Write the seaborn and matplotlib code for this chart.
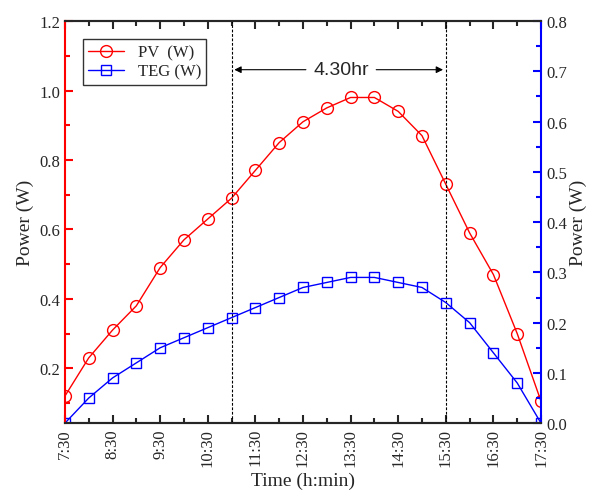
import numpy as np
import pandas as pd
import matplotlib
matplotlib.use('Agg')
import matplotlib.pyplot as plt
import seaborn as sns
from matplotlib.ticker import MultipleLocator

hours = [7.5 + 0.5 * i for i in range(21)]
tick_hours = [7.5, 8.5, 9.5, 10.5, 11.5, 12.5, 13.5, 14.5, 15.5, 16.5, 17.5]
tick_labels = ['7:30', '8:30', '9:30', '10:30', '11:30', '12:30',
               '13:30', '14:30', '15:30', '16:30', '17:30']
pv = [0.12, 0.23, 0.31, 0.38, 0.49, 0.57, 0.63, 0.69, 0.77, 0.85, 0.91,
      0.95, 0.98, 0.98, 0.94, 0.87, 0.73, 0.59, 0.47, 0.30, 0.105]
teg = [0.0, 0.05, 0.09, 0.12, 0.15, 0.17, 0.19, 0.21, 0.23, 0.25, 0.27,
       0.28, 0.29, 0.29, 0.28, 0.27, 0.24, 0.20, 0.14, 0.08, 0.0]
span_start, span_end = 11.0, 15.5

sns.set_style('ticks')
plt.rcParams['font.family'] = ['Liberation Serif', 'DejaVu Serif']

df = pd.DataFrame({'hour': hours, 'pv': pv, 'teg': teg})

fig = plt.figure(figsize=(5.9, 5.02), dpi=100)
ax = fig.add_axes([0.110, 0.155, 0.807, 0.801])
ax2 = ax.twinx()

sns.lineplot(data=df, x='hour', y='pv', ax=ax, color='red', marker='o',
             markersize=8.5, markerfacecolor='none', markeredgecolor='red',
             markeredgewidth=1.0, linewidth=1.0, label='PV  (W)', legend=False)
sns.lineplot(data=df, x='hour', y='teg', ax=ax2, color='blue', marker='s',
             markersize=7, markerfacecolor='none', markeredgecolor='blue',
             markeredgewidth=1.0, linewidth=1.0, label='TEG (W)', legend=False)

ax.set_xlim(7.5, 17.5)
ax.set_ylim(0.042, 1.2)
ax2.set_ylim(0.0, 0.8)

ax.set_xticks(tick_hours)
ax.set_xticklabels(tick_labels, rotation=90)
ax.xaxis.set_minor_locator(MultipleLocator(0.5))
ax.yaxis.set_major_locator(MultipleLocator(0.2))
ax.yaxis.set_minor_locator(MultipleLocator(0.1))
ax2.yaxis.set_major_locator(MultipleLocator(0.1))
ax2.yaxis.set_minor_locator(MultipleLocator(0.05))
ax.set_yticks([0.2, 0.4, 0.6, 0.8, 1.0, 1.2])

ax.tick_params(axis='both', which='both', direction='in', top=True, labelsize=12)
ax.tick_params(which='major', length=6, width=1.5)
ax.tick_params(which='minor', length=3.5, width=1.5)
ax.tick_params(axis='y', which='both', color='red')
ax2.tick_params(axis='y', which='both', direction='in', labelsize=12, color='blue')
ax2.tick_params(which='major', length=6, width=1.5)
ax2.tick_params(which='minor', length=3.5, width=1.5)

for side in ['top', 'bottom']:
    ax.spines[side].set_linewidth(1.5)
    ax2.spines[side].set_linewidth(1.5)
ax2.spines['left'].set_color('red')
ax2.spines['left'].set_linewidth(1.5)
ax2.spines['right'].set_color('blue')
ax2.spines['right'].set_linewidth(1.5)
ax.spines['left'].set_visible(False)
ax.spines['right'].set_visible(False)

ax.set_xlabel('Time (h:min)', fontsize=14, labelpad=4)
ax.set_ylabel('Power (W)', fontsize=14, labelpad=4)
ax2.set_ylabel('Power (W)', fontsize=14, rotation=90, labelpad=2)

for x in [span_start, span_end]:
    ax.axvline(x, color='black', linestyle=(0, (2.5, 1.5)), linewidth=0.8)

arrow_y = 1.06
mid = 13.3
ax.text(mid, arrow_y, '4.30hr', ha='center', va='center', fontsize=14,
        family=['Liberation Sans', 'DejaVu Sans'])
ax.annotate('', xy=(span_start, arrow_y), xytext=(mid - 0.68, arrow_y),
            arrowprops=dict(arrowstyle='-|>', color='black', lw=0.8, mutation_scale=10))
ax.annotate('', xy=(span_end, arrow_y), xytext=(mid + 0.68, arrow_y),
            arrowprops=dict(arrowstyle='-|>', color='black', lw=0.8, mutation_scale=10))

h1, l1 = ax.get_legend_handles_labels()
h2, l2 = ax2.get_legend_handles_labels()
leg = ax2.legend(h1 + h2, l1 + l2, loc='upper left', bbox_to_anchor=(0.02, 0.975),
                 fontsize=12, frameon=True, fancybox=False, edgecolor='black',
                 handlelength=2.2, borderpad=0.3, labelspacing=0.2)
leg.get_frame().set_linewidth(1.0)

fig.savefig('out.png', dpi=100)
